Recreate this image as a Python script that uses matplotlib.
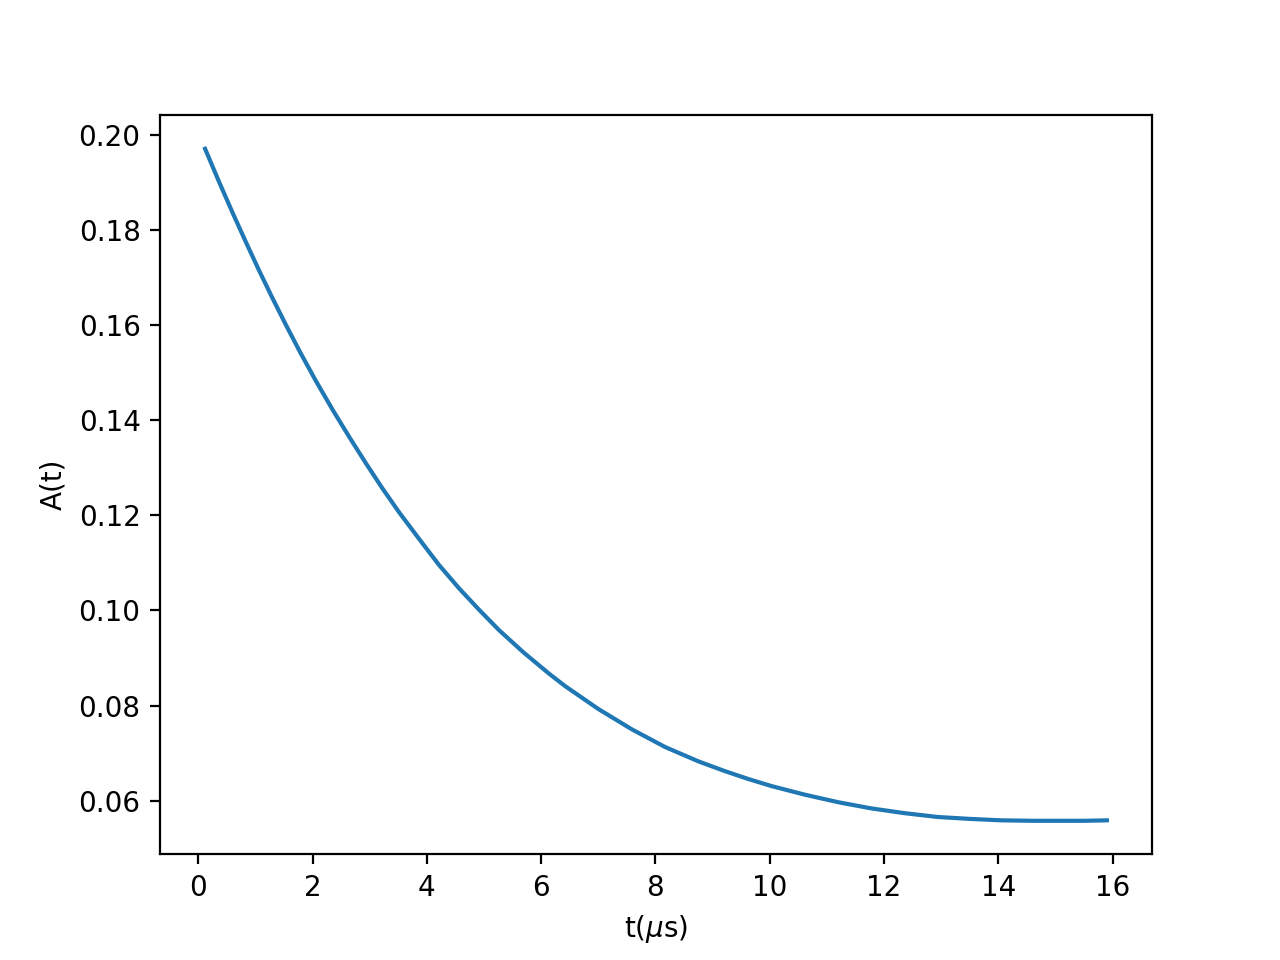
import matplotlib
matplotlib.use("Agg")
import matplotlib.pyplot as plt
import numpy as np

t_us = [0.12, 0.37, 0.60, 0.83, 1.07, 1.30, 1.53, 1.79, 2.06, 2.35, 2.64, 2.93,
        3.22, 3.51, 3.86, 4.21, 4.56, 4.91, 5.26, 5.69, 6.13, 6.42, 7.0, 7.59,
        8.17, 8.75, 9.2, 9.62, 10.03, 10.61, 11.2, 11.78, 12.36, 12.94, 13.5,
        14.05, 14.6, 15.1, 15.51, 15.9]
A_t = [0.1970, 0.1899, 0.1836, 0.1775, 0.1713, 0.1656, 0.1601, 0.1541, 0.1482,
       0.1422, 0.1365, 0.1310, 0.1257, 0.1207, 0.1151, 0.1096, 0.1047, 0.1002,
       0.0959, 0.0912, 0.0868, 0.0841, 0.0793, 0.0750, 0.0713, 0.0683, 0.0663,
       0.0646, 0.0631, 0.0613, 0.0597, 0.0584, 0.0574, 0.0566, 0.0562, 0.0559,
       0.0558, 0.0558, 0.0558, 0.0559]

fig, ax = plt.subplots(figsize=(6.4, 4.8), dpi=200)
ax.plot(t_us, A_t, color="#1f77b4")
ax.set_xlabel(r"t($\mu$s)")
ax.set_ylabel("A(t)")
ax.set_xticks(np.arange(0, 17, 2))
ax.set_yticks([0.06, 0.08, 0.10, 0.12, 0.14, 0.16, 0.18, 0.20])
fig.savefig("out.png", dpi=200)
